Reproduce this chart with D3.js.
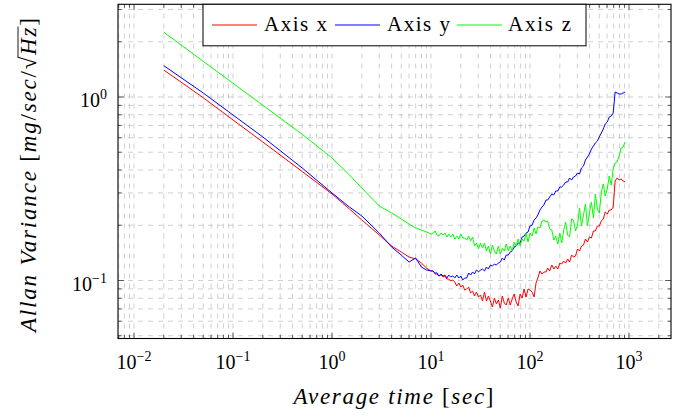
<!DOCTYPE html>
<html><head><meta charset="utf-8">
<script src="https://cdn.jsdelivr.net/npm/d3@7"></script>
<style>body{margin:0;background:#fff}</style>
</head><body><svg id="c" width="689" height="420"></svg>
<script>
// averaging time tau [sec]
const tau = [0.02, 0.05, 0.1, 0.2, 0.5, 1, 1.5, 2, 3, 4, 5, 6, 7, 8, 9,
 10, 10.5, 11, 11.5, 12, 12.6, 13.2, 13.8, 14.5, 15.1,
 15.8, 16.6, 17.4, 18.2, 19.1, 20, 20.9, 21.9, 22.9, 24,
 25.1, 26.3, 27.5, 28.8, 30.2, 31.6, 33.1, 34.7, 36.3, 38,
 39.8, 41.7, 43.7, 45.7, 47.9, 50.1, 52.5, 55, 57.5, 60.3,
 63.1, 66.1, 69.2, 72.4, 75.9, 79.4, 83.2, 87.1, 91.2, 95.5,
 100, 105, 110, 115, 120, 126, 132, 138, 145, 151,
 158, 166, 174, 182, 191, 200, 209, 219, 229, 240,
 251, 263, 275, 288, 302, 316, 331, 347, 363, 380,
 398, 417, 437, 457, 479, 501, 525, 550, 575, 603,
 631, 661, 692, 724, 759, 794, 832, 871, 912];

const axisX = [1.403, 0.991, 0.7493, 0.5685, 0.3926, 0.2961, 0.2453, 0.2136, 0.1770, 0.1542, 0.1430, 0.1343, 0.1310, 0.1245, 0.1169,
 0.1127, 0.1127, 0.1085, 0.1085, 0.1058, 0.1071, 0.1045, 0.1058, 0.1019, 0.1019,
 0.0993, 0.1006, 0.0981, 0.0933, 0.0969, 0.0921, 0.0945, 0.0887, 0.0898, 0.0921,
 0.0855, 0.0876, 0.0823, 0.0865, 0.0813, 0.0834, 0.0773, 0.0865, 0.0773, 0.0823,
 0.0773, 0.0717, 0.0803, 0.0745, 0.0783, 0.0708, 0.0823, 0.0754, 0.0735, 0.0803,
 0.0735, 0.0793, 0.0844, 0.0764, 0.0726, 0.0844, 0.0803, 0.0898, 0.0813, 0.0898,
 0.0887, 0.0865, 0.0813, 0.0969, 0.1032, 0.1127, 0.1085, 0.1113, 0.1113, 0.1169,
 0.1127, 0.1214, 0.1155, 0.1199, 0.1155, 0.1245, 0.1230, 0.1277, 0.1245, 0.1310,
 0.1261, 0.1377, 0.1343, 0.1360, 0.1485, 0.1448, 0.1542, 0.1561, 0.1683, 0.1621,
 0.1726, 0.1704, 0.1861, 0.1861, 0.1981, 0.1981, 0.2109, 0.2164, 0.2362, 0.2304,
 0.2422, 0.2422, 0.2515, 0.3485, 0.3619, 0.3529, 0.3574, 0.3485, 0.3442];

const axisY = [1.481, 1.052, 0.7978, 0.6054, 0.4103, 0.2998, 0.2515, 0.2247, 0.1815, 0.1522, 0.1377, 0.1261, 0.1326, 0.1184, 0.1141,
 0.1127, 0.1127, 0.1099, 0.1099, 0.1058, 0.1085, 0.1058, 0.1071, 0.1032, 0.1071,
 0.1045, 0.1058, 0.1032, 0.1071, 0.1032, 0.1058, 0.1006, 0.1032, 0.1032, 0.1099,
 0.1071, 0.1113, 0.1085, 0.1141, 0.1113, 0.1141, 0.1155, 0.1127, 0.1184, 0.1155,
 0.1214, 0.1199, 0.1230, 0.1214, 0.1245, 0.1261, 0.1326, 0.1293, 0.1377, 0.1377,
 0.1430, 0.1448, 0.1522, 0.1542, 0.1601, 0.1601, 0.1726, 0.1748, 0.1815, 0.1837,
 0.1981, 0.2006, 0.2136, 0.2191, 0.2275, 0.2422, 0.2515, 0.2579, 0.2746, 0.2746,
 0.2852, 0.2961, 0.2924, 0.3074, 0.3074, 0.3233, 0.3233, 0.3315, 0.3442, 0.3442,
 0.3619, 0.3529, 0.3665, 0.3711, 0.3853, 0.3805, 0.4103, 0.4207, 0.4536, 0.4710,
 0.4891, 0.5208, 0.5407, 0.5615, 0.5757, 0.6054, 0.6365, 0.6693, 0.7126, 0.7307,
 0.7780, 0.7878, 0.8181, 1.065, 1.052, 1.038, 1.038, 1.052, 1.065];

const axisZ = [2.253, 1.565, 1.188, 0.9012, 0.6262, 0.4652, 0.3758, 0.3193, 0.2547, 0.2333, 0.2164, 0.2031, 0.1932, 0.1884, 0.1837,
 0.1792, 0.1815, 0.1861, 0.1770, 0.1748, 0.1815, 0.1770, 0.1815, 0.1726, 0.1792,
 0.1726, 0.1792, 0.1683, 0.1748, 0.1683, 0.1792, 0.1704, 0.1704, 0.1662, 0.1748,
 0.1641, 0.1726, 0.1542, 0.1601, 0.1485, 0.1601, 0.1503, 0.1601, 0.1448, 0.1542,
 0.1394, 0.1561, 0.1448, 0.1394, 0.1542, 0.1394, 0.1503, 0.1448, 0.1581, 0.1448,
 0.1542, 0.1448, 0.1621, 0.1542, 0.1683, 0.1542, 0.1683, 0.1641, 0.1815, 0.1621,
 0.1815, 0.1748, 0.1932, 0.1792, 0.1956, 0.1932, 0.2109, 0.2136, 0.2083, 0.2109,
 0.1908, 0.1884, 0.1662, 0.1748, 0.1581, 0.1815, 0.1601, 0.1884, 0.2083, 0.1770,
 0.1726, 0.2164, 0.2136, 0.1861, 0.2006, 0.2484, 0.1981, 0.2275, 0.2612, 0.1981,
 0.2333, 0.2678, 0.2191, 0.2961, 0.2453, 0.2333, 0.3036, 0.3356, 0.2888, 0.3153,
 0.3711, 0.3315, 0.4052, 0.4369, 0.4424, 0.4770, 0.5273, 0.5340, 0.5685];

const seriesNames = ["Axis x", "Axis y", "Axis z"];
const seriesColors = ["#ff0000", "#0000ff", "#00ff00"];
const xTickExponents = [-2, -1, 0, 1, 2, 3];
const yTickExponents = [-1, 0];
const xLimits = [0.00689, 2655];
const yLimits = [0.0483, 3.20];

// ---------- drawing ----------
const svg = d3.select("#c");
const L = 118, R = 671, T = 4.3, B = 338.5;

const x = d3.scaleLog().domain(xLimits).range([L, R]);
const y = d3.scaleLog().domain(yLimits).range([B, T]);

svg.append("rect").attr("width", 689).attr("height", 420).attr("fill", "#fff");

function logGrid(scale) {
  const [a, b] = scale.domain();
  const out = [];
  for (let e = Math.floor(Math.log10(a)); e <= Math.ceil(Math.log10(b)); e++) {
    for (let k = 1; k <= 9; k++) {
      const v = k * Math.pow(10, e);
      if (v >= a && v <= b) out.push({ v, major: k === 1 });
    }
  }
  return out;
}
const gx = logGrid(x), gy = logGrid(y);

// grid
const grid = svg.append("g").attr("stroke", "#c4c4c4").attr("stroke-width", 0.8)
  .attr("stroke-dasharray", "5,5").attr("fill", "none");
gx.forEach(t => grid.append("line").attr("x1", x(t.v)).attr("x2", x(t.v)).attr("y1", B).attr("y2", T));
gy.forEach(t => grid.append("line").attr("x1", L).attr("x2", R).attr("y1", y(t.v)).attr("y2", y(t.v)));

// ticks on all four sides
const ticks = svg.append("g").attr("stroke", "#3a3a3a").attr("stroke-width", 0.8);
gx.forEach(t => {
  const len = t.major ? 6 : 3.5, px = x(t.v);
  ticks.append("line").attr("x1", px).attr("x2", px).attr("y1", B).attr("y2", B - len);
  ticks.append("line").attr("x1", px).attr("x2", px).attr("y1", T).attr("y2", T + len);
});
gy.forEach(t => {
  const len = t.major ? 6 : 3.5, py = y(t.v);
  ticks.append("line").attr("x1", L).attr("x2", L + len).attr("y1", py).attr("y2", py);
  ticks.append("line").attr("x1", R).attr("x2", R - len).attr("y1", py).attr("y2", py);
});

// series
const series = [axisX, axisY, axisZ];
const line = d3.line().x(d => x(d[0])).y(d => y(d[1]));
svg.append("defs").append("clipPath").attr("id", "clip")
  .append("rect").attr("x", L).attr("y", T).attr("width", R - L).attr("height", B - T);
const plot = svg.append("g").attr("clip-path", "url(#clip)");
series.forEach((vals, i) => {
  plot.append("path").datum(d3.zip(tau, vals)).attr("d", line)
    .attr("fill", "none").attr("stroke", seriesColors[i]).attr("stroke-width", 1)
    .attr("stroke-linejoin", "round");
});

// frame
svg.append("rect").attr("x", L).attr("y", T).attr("width", R - L).attr("height", B - T)
  .attr("fill", "none").attr("stroke", "#000").attr("stroke-width", 1.1);

function txt(parent, size) {
  return parent.append("text").style("font-family", "Liberation Serif").attr("font-size", size).attr("fill", "#000");
}

// tick labels
function expLabel(sel, e) {
  sel.append("tspan").text("10");
  sel.append("tspan").attr("font-size", 14).attr("dy", -8).text(e < 0 ? "\u2212" + (-e) : String(e));
}
xTickExponents.forEach(e => {
  const t = txt(svg, 20).attr("x", x(Math.pow(10, e))).attr("y", 369).attr("text-anchor", "middle");
  expLabel(t, e);
});
yTickExponents.forEach(e => {
  const t = txt(svg, 20).attr("x", 107).attr("y", y(Math.pow(10, e)) + 10).attr("text-anchor", "end");
  expLabel(t, e);
});

// x title
const xt = txt(svg, 23).attr("x", (L + R) / 2 - 1).attr("y", 404).attr("text-anchor", "middle")
  .attr("textLength", 200).attr("lengthAdjust", "spacing");
xt.append("tspan").style("font-style", "italic").text("Average time ");
xt.append("tspan").text("[");
xt.append("tspan").style("font-style", "italic").text("sec");
xt.append("tspan").text("]");

// y title (rotated)
const yg = svg.append("g").attr("transform", "translate(35.5,175) rotate(-90)");
const yt = txt(yg, 23).attr("x", 0).attr("y", 0).attr("text-anchor", "middle")
  .attr("textLength", 314).attr("lengthAdjust", "spacing");
yt.append("tspan").style("font-style", "italic").text("Allan Variance ");
yt.append("tspan").text("[");
yt.append("tspan").style("font-style", "italic").text("mg");
yt.append("tspan").text("/");
yt.append("tspan").style("font-style", "italic").text("sec");
yt.append("tspan").text("/\u221A");
yt.append("tspan").style("font-style", "italic").text("Hz");
yt.append("tspan").text("]");
try {
  const full = yt.node().textContent;
  const iRad = full.indexOf("\u221A");
  const rad = yt.node().getExtentOfChar(iRad);
  const z = yt.node().getExtentOfChar(iRad + 2);
  yg.append("line").attr("x1", rad.x + rad.width - 0.8).attr("x2", z.x + z.width + 1)
    .attr("y1", rad.y + 2.5).attr("y2", rad.y + 2.5).attr("stroke", "#000").attr("stroke-width", 0.9);
} catch (err) {}

// legend
const lg = svg.append("g");
lg.append("rect").attr("x", 203).attr("y", T).attr("width", 383).attr("height", 41.5)
  .attr("fill", "#fff").attr("stroke", "#000").attr("stroke-width", 1);
const legLineX = [212, 335, 457];
const legTextX = [264, 387, 508];
seriesNames.forEach((name, i) => {
  lg.append("line").attr("x1", legLineX[i]).attr("x2", legLineX[i] + 45).attr("y1", 25).attr("y2", 25)
    .attr("stroke", seriesColors[i]).attr("stroke-width", 1);
  txt(lg, 21).attr("x", legTextX[i]).attr("y", 31)
    .attr("textLength", 63).attr("lengthAdjust", "spacing").text(name);
});
</script></body></html>
